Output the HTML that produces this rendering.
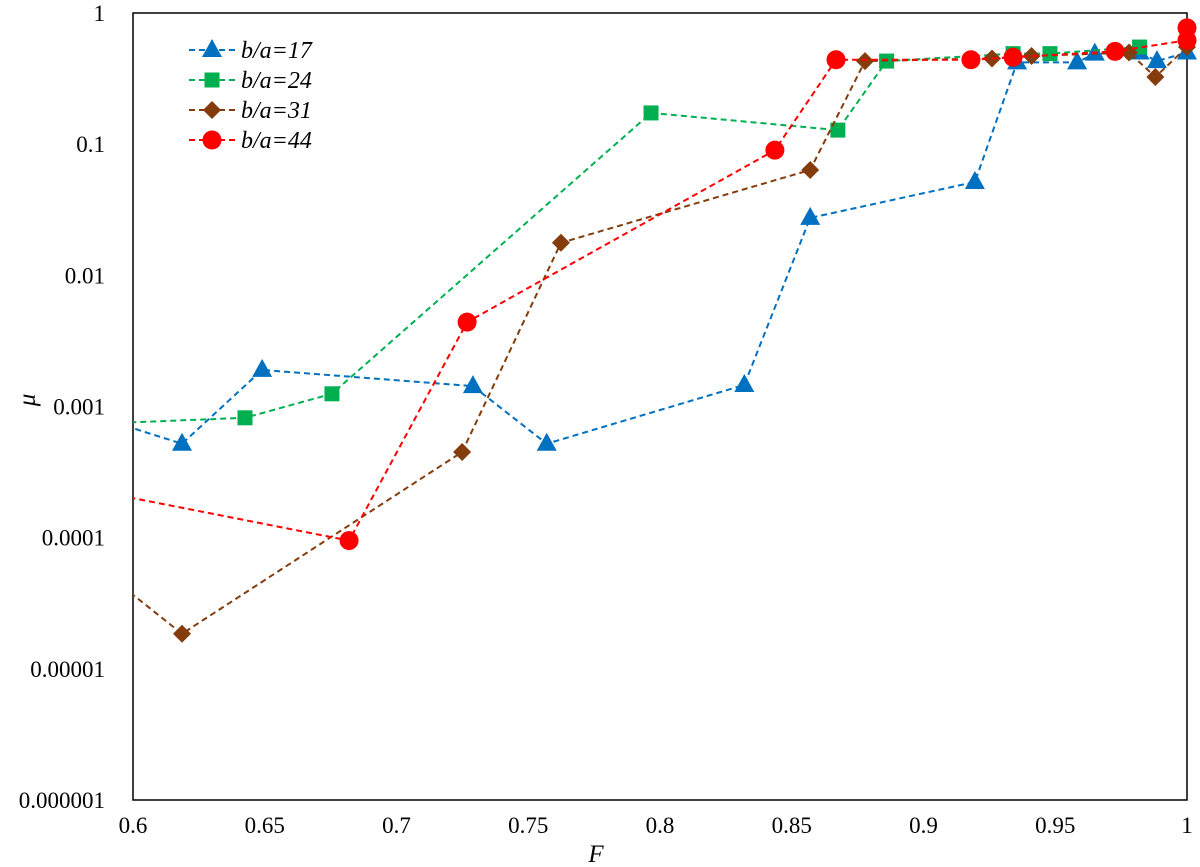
<!DOCTYPE html>
<html><head><meta charset="utf-8"><style>
body{margin:0;background:#fff;}
svg{display:block;font-family:"Liberation Serif",serif;}
</style></head><body>
<svg id="chart" width="1200" height="867"></svg>
<script>
const xTicks=[0.6,0.65,0.7,0.75,0.8,0.85,0.9,0.95,1];
const xTickLabels=["0.6","0.65","0.7","0.75","0.8","0.85","0.9","0.95","1"];
const yTicks=[1e-6,1e-5,1e-4,1e-3,1e-2,1e-1,1];
const yTickLabels=["0.000001","0.00001","0.0001","0.001","0.01","0.1","1"];
const seriesNames=["b/a=17","b/a=24","b/a=31","b/a=44"];
const f17=[0.59,0.6186,0.649,0.729,0.757,0.832,0.857,0.9195,0.9355,0.9583,0.965,0.982,0.9886,1];
const mu17=[7.9e-4,5.2e-4,0.0019,0.00143,5.2e-4,0.00146,0.0274,0.0515,0.42,0.42,0.49,0.5,0.43,0.5];
const f24=[0.58,0.6425,0.6755,0.7966,0.8675,0.886,0.934,0.948,0.982];
const mu24=[7.3e-4,8.2e-4,0.00125,0.173,0.128,0.43,0.49,0.49,0.55];
const f31=[0.59,0.6186,0.7249,0.7624,0.857,0.8778,0.926,0.941,0.978,0.988,1];
const mu31=[5.3e-5,1.85e-5,4.5e-4,0.0177,0.0636,0.43,0.45,0.47,0.5,0.325,0.55];
const f44=[0.58,0.682,0.7268,0.8436,0.8668,0.918,0.934,0.9727,1,1];
const mu44=[2.4e-4,9.5e-5,0.0044,0.09,0.44,0.44,0.46,0.51,0.62,0.77];

const L=133,R=1187,T=13,B=800;
const X=f=>L+(f-0.6)/0.4*(R-L);
const Y=m=>T+(-Math.log10(m))/6*(B-T);
const NS="http://www.w3.org/2000/svg";
const svg=document.getElementById('chart');
function mk(tag,attrs,parent){const e=document.createElementNS(NS,tag);for(const k in attrs)e.setAttribute(k,attrs[k]);(parent||svg).appendChild(e);return e;}

const defs=mk('defs',{});
const cp=mk('clipPath',{id:'clip'},defs);
mk('rect',{x:L,y:T-12,width:R-L+12,height:B-T+12},cp);

const frame=mk('rect',{x:L,y:T,width:R-L,height:B-T,fill:'none',stroke:'#000','stroke-width':1.5});



xTicks.forEach((v,i)=>{const t=mk('text',{x:X(v),y:833,'text-anchor':'middle','font-size':23,fill:'#000'});t.textContent=xTickLabels[i];

});
yTicks.forEach((v,i)=>{const t=mk('text',{x:105,y:Y(v)+8,'text-anchor':'end','font-size':23,fill:'#000'});t.textContent=yTickLabels[i];

});

const xt=mk('text',{x:596,y:862,'text-anchor':'middle','font-size':25,'font-style':'italic'});xt.textContent='F';


const yt=mk('text',{x:0,y:0,'text-anchor':'middle','font-size':25,'font-style':'italic',transform:'translate(35,400) rotate(-90)'});yt.textContent='μ';



const colors=['#0070C0','#00B050','#843C0C','#FF0000'];
const shapes=['tri','sq','dia','circ'];
function marker(g,shape,x,y,c){
  if(shape==='tri')return mk('polygon',{points:`${x},${y-11} ${x-10},${y+7} ${x+10},${y+7}`,fill:c},g);
  if(shape==='sq')return mk('rect',{x:x-7.5,y:y-7.5,width:15,height:15,fill:c},g);
  if(shape==='dia')return mk('polygon',{points:`${x},${y-9} ${x+9},${y} ${x},${y+9} ${x-9},${y}`,fill:c},g);
  return mk('circle',{cx:x,cy:y,r:9.5,fill:c},g);
}
const data=[[f17,mu17],[f24,mu24],[f31,mu31],[f44,mu44]];
data.forEach(([fs,ms],si)=>{
  const g=mk('g',{'clip-path':'url(#clip)'});
  
  
  const pts=fs.map((f,i)=>X(f)+','+Y(ms[i])).join(' ');
  mk('polyline',{points:pts,fill:'none',stroke:colors[si],'stroke-width':2,'stroke-dasharray':'6,4'},g);
  fs.forEach((f,i)=>{if(f<0.6)return;const m=marker(g,shapes[si],X(f),Y(ms[i]),colors[si]);
    
    });
});

seriesNames.forEach((n,i)=>{
  const y=50+i*30;
  const g=mk('g',{});
  
  
  mk('line',{x1:189,y1:y,x2:236,y2:y,stroke:colors[i],'stroke-width':2,'stroke-dasharray':'6,4'},g);
  marker(g,shapes[i],212,y,colors[i]);
  const t=mk('text',{x:241,y:y+8,'font-size':24,'font-style':'italic'},g);t.textContent=n;
});
</script>
</body></html>
